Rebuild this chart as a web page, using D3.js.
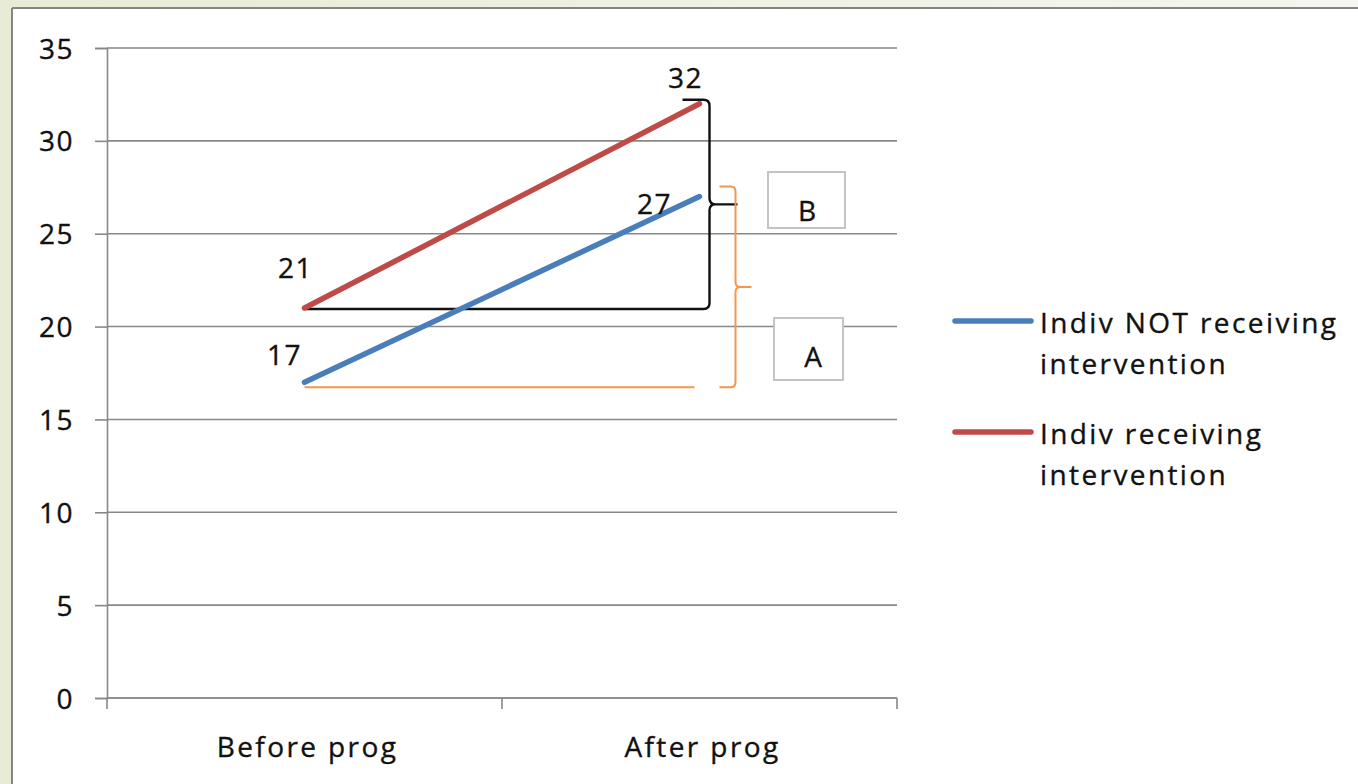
<!DOCTYPE html>
<html><head><meta charset="utf-8">
<script src="https://cdn.jsdelivr.net/npm/d3@7"></script>
<style>
html,body{margin:0;padding:0;background:#fff;}
svg{display:block;}
text{font-family:"Open Sans","Noto Sans",sans-serif;fill:#111;stroke:#111;stroke-width:0.35px;}
</style></head>
<body>
<svg id="chart" width="1358" height="784"></svg>
<script>
// ---- data ----
const categories = ["Before prog", "After prog"];
const notReceiving = [17, 27];
const receiving = [21, 32];
const seriesNames = ["Indiv NOT receiving intervention", "Indiv receiving intervention"];
const legendLines = [["Indiv NOT receiving", "intervention"], ["Indiv receiving", "intervention"]];
const yTicks = [0, 5, 10, 15, 20, 25, 30, 35];
const boxLabels = ["B", "A"];

// ---- setup ----
const svg = d3.select("#chart");
const W = 1358, H = 784;
const mLeft = 107, mRight = 897, mTop = 48, mBottom = 698;

// frame
const defs = svg.append("defs");
const g1 = defs.append("linearGradient").attr("id", "topband").attr("x1", 0).attr("x2", 1);
g1.append("stop").attr("offset", 0).attr("stop-color", "#e8ebd5");
g1.append("stop").attr("offset", 1).attr("stop-color", "#f5f6ef");
svg.append("rect").attr("x", 0).attr("y", 0).attr("width", W).attr("height", 8).attr("fill", "url(#topband)");
svg.append("rect").attr("x", 0).attr("y", 0).attr("width", 11).attr("height", H).attr("fill", "#e8ebd5");
svg.append("rect").attr("x", 11).attr("y", 8).attr("width", W - 11).attr("height", H - 8).attr("fill", "#fff");
svg.append("line").attr("x1", 12).attr("x2", W).attr("y1", 8).attr("y2", 8).attr("stroke", "#858585").attr("stroke-width", 2);
svg.append("line").attr("x1", 12).attr("x2", 12).attr("y1", 8).attr("y2", H).attr("stroke", "#858585").attr("stroke-width", 2);

const x = d3.scaleBand().domain(categories).range([mLeft, mRight]);
const cx = c => x(c) + x.bandwidth() / 2;
const y = d3.scaleLinear().domain([0, 35]).range([mBottom, mTop]);

const gridColor = "#888";

// gridlines
svg.append("g").selectAll("line").data(yTicks).join("line")
  .attr("x1", mLeft).attr("x2", mRight)
  .attr("y1", d => y(d)).attr("y2", d => y(d))
  .attr("stroke", gridColor).attr("stroke-width", 1.6);

// y axis
const yAxis = svg.append("g").attr("transform", `translate(${mLeft},0)`)
  .call(d3.axisLeft(y).tickValues(yTicks).tickSize(12).tickPadding(21).tickFormat(d3.format("d")));
yAxis.select(".domain").attr("stroke", gridColor).attr("stroke-width", 1.6);
yAxis.selectAll(".tick line").attr("stroke", gridColor).attr("stroke-width", 1.6);
yAxis.selectAll("text").attr("font-size", 28).attr("font-family", "Open Sans").attr("fill", "#111").attr("dy", "0.36em").attr("letter-spacing", "1.5px");

// x axis
const xAxis = svg.append("g").attr("transform", `translate(0,${mBottom})`)
  .call(d3.axisBottom(x).tickSize(0).tickPadding(39));
xAxis.select(".domain").remove();
xAxis.selectAll("text").attr("font-size", 28).attr("font-family", "Open Sans").attr("fill", "#111").attr("letter-spacing", "2.4px").attr("dx", "3px");
svg.append("line").attr("x1", mLeft).attr("x2", mRight).attr("y1", mBottom).attr("y2", mBottom)
  .attr("stroke", gridColor).attr("stroke-width", 1.6);
const edges = categories.map(c => x(c)).concat([x(categories[categories.length - 1]) + x.bandwidth()]);
svg.append("g").selectAll("line").data(edges).join("line")
  .attr("x1", d => d).attr("x2", d => d).attr("y1", mBottom).attr("y2", mBottom + 11)
  .attr("stroke", gridColor).attr("stroke-width", 1.6);

// brackets (annotations)
const ex = cx(categories[1]);
const sx = cx(categories[0]);
{
  const yb = y(receiving[0]) + 1, yt = y(receiving[1]) - 4, ym = (yb + yt) / 2;
  const vx = ex + 10, r = 6;
  const p = `M${ex - 17},${yt} H${vx - r} Q${vx},${yt} ${vx},${yt + r} V${ym - r} Q${vx},${ym} ${vx + r},${ym} H${vx + 28}`
    + ` M${vx + r},${ym} Q${vx},${ym} ${vx},${ym + r} V${yb - r} Q${vx},${yb} ${vx - r},${yb} H${sx}`;
  svg.append("path").attr("d", p).attr("fill", "none").attr("stroke", "#111").attr("stroke-width", 2.4);
}
{
  const yb = y(notReceiving[0]) + 5, yt = y(notReceiving[1]) - 10, ym = (yb + yt) / 2;
  const vx = ex + 36, r = 5;
  const p = `M${vx - 16},${yt} H${vx - r} Q${vx},${yt} ${vx},${yt + r} V${ym - r} Q${vx},${ym} ${vx + r},${ym} H${vx + 16}`
    + ` M${vx + r},${ym} Q${vx},${ym} ${vx},${ym + r} V${yb - r} Q${vx},${yb} ${vx - r},${yb} H${vx - 16}`
    + ` M${ex - 5},${yb} H${sx}`;
  svg.append("path").attr("d", p).attr("fill", "none").attr("stroke", "#f79646").attr("stroke-width", 2);
}

// series lines
const series = [
  { name: seriesNames[0], values: notReceiving, color: "#4a7ebb" },
  { name: seriesNames[1], values: receiving, color: "#be4b48" }
];
const line = d3.line().x((d, i) => cx(categories[i])).y(d => y(d));
svg.append("g").selectAll("path").data(series).join("path")
  .attr("d", d => line(d.values)).attr("fill", "none")
  .attr("stroke", d => d.color).attr("stroke-width", 5.5).attr("stroke-linecap", "round");

// data labels (manual offsets as in original)
const labelOffsets = [[[-20, -17], [-45, 17]], [[-9, -30], [-14, -16]]];
series.forEach((s, si) => {
  s.values.forEach((v, i) => {
    svg.append("text").attr("x", cx(categories[i]) + labelOffsets[si][i][0]).attr("y", y(v) + labelOffsets[si][i][1])
      .attr("text-anchor", "middle").attr("font-size", 28).attr("letter-spacing", "1.5px").text(v);
  });
});

// annotation boxes
const boxes = [
  { label: boxLabels[0], x: 768, y: 172, w: 77, h: 56, tx: 807, ty: 221 },
  { label: boxLabels[1], x: 774, y: 318, w: 69, h: 62, tx: 813, ty: 367 }
];
boxes.forEach(b => {
  svg.append("rect").attr("x", b.x).attr("y", b.y).attr("width", b.w).attr("height", b.h)
    .attr("fill", "#fff").attr("stroke", "#c4c4c4").attr("stroke-width", 2);
  svg.append("text").attr("x", b.tx).attr("y", b.ty).attr("text-anchor", "middle").attr("font-size", 28).text(b.label);
});

// legend
const legendY = [321, 432];
series.forEach((s, i) => {
  const gy = legendY[i];
  svg.append("line").attr("x1", 955).attr("x2", 1031).attr("y1", gy).attr("y2", gy)
    .attr("stroke", s.color).attr("stroke-width", 5.5).attr("stroke-linecap", "round");
  const t = svg.append("text").attr("x", 1040).attr("y", gy + 12).attr("font-size", 28).attr("letter-spacing", "2.4px");
  legendLines[i].forEach((ln, j) => {
    t.append("tspan").attr("x", 1040).attr("dy", j === 0 ? 0 : 41).text(ln);
  });
});
</script>
</body></html>
